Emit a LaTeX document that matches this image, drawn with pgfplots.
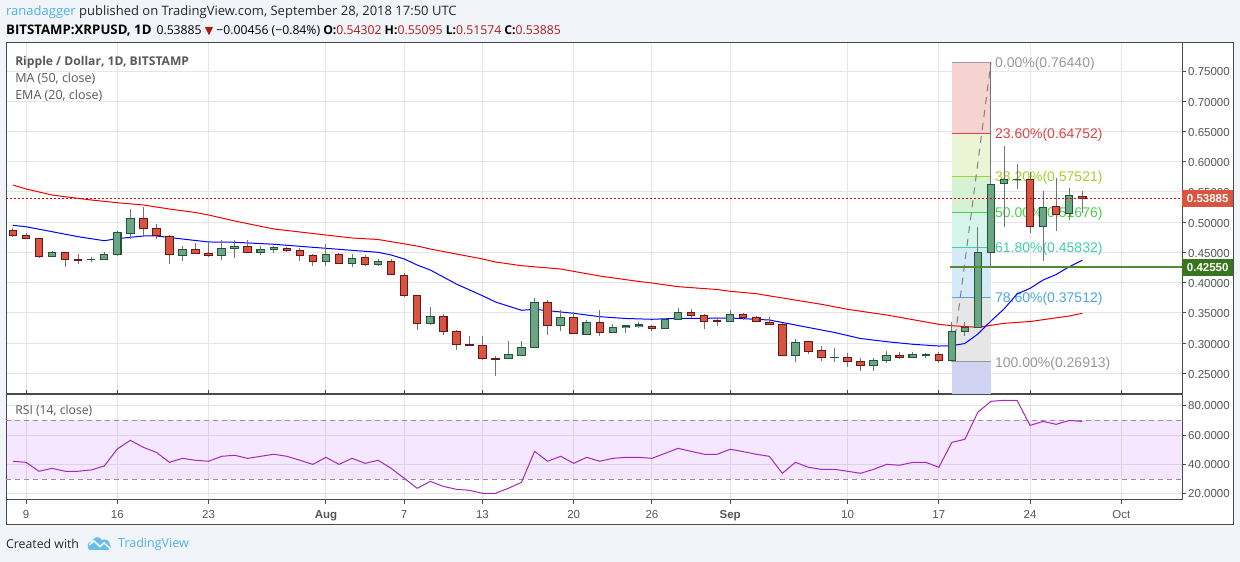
\documentclass[border=0pt]{standalone}
\usepackage{fontspec}
\setmainfont{Liberation Sans}
\newfontfamily\headfont{Open Sans}
\newfontfamily\symfont{DejaVu Sans}
\usepackage{pgfplots}
\usepackage{pgfplotstable}
\pgfplotsset{compat=1.18}

\definecolor{pagebg}{HTML}{F1F4F8}
\definecolor{frame}{HTML}{4A4A4A}
\definecolor{gridc}{HTML}{E6E6E6}
\definecolor{ticktxt}{HTML}{555555}
\definecolor{upfill}{HTML}{6BA583}
\definecolor{upedge}{HTML}{225437}
\definecolor{dnfill}{HTML}{D75442}
\definecolor{dnedge}{HTML}{6B1713}
\definecolor{wickc}{HTML}{737375}
\definecolor{tvblue}{HTML}{4DB3E8}
\definecolor{hdrred}{HTML}{B01818}
\definecolor{rsic}{HTML}{A32AB8}
\definecolor{fibgray}{HTML}{999999}
\definecolor{fibred}{HTML}{DD4444}
\definecolor{fibyel}{HTML}{A0D22E}
\definecolor{fibgrn}{HTML}{4CD04C}
\definecolor{fibtea}{HTML}{40D0A8}
\definecolor{fibblu}{HTML}{4CA8DC}
\definecolor{bandred}{HTML}{F4D3D0}
\definecolor{bandyel}{HTML}{EBF5D5}
\definecolor{bandgrn}{HTML}{D5F2D5}
\definecolor{bandtea}{HTML}{D5F5EB}
\definecolor{bandblu}{HTML}{D5EAF6}
\definecolor{bandgry}{HTML}{E6E6E6}
\definecolor{bandlav}{HTML}{D0D2F2}
\definecolor{lvlgrn}{HTML}{558A35}
\definecolor{boxgrn}{HTML}{38761D}
\definecolor{boxred}{HTML}{D9553F}

% i open high low close, i=0 is 9 Jul
\pgfplotstableread{
i o h l c
2 .4431 .4519 .4431 .4503
5 .4387 .4431 .4343 .4387
6 .4387 .4508 .4387 .4470
7 .4464 .4850 .4448 .4833
8 .4811 .5213 .4718 .5065
12 .4448 .4607 .4365 .4552
15 .4448 .4707 .4376 .4569
16 .4563 .4707 .4409 .4602
18 .4497 .4607 .4459 .4552
19 .4547 .4607 .4497 .4585
23 .4349 .4635 .4277 .4470
25 .4315 .4475 .4255 .4404
27 .4299 .4387 .4282 .4354
31 .3324 .3599 .3307 .3445
37 .2751 .3032 .2751 .2817
38 .2800 .3032 .2784 .2933
39 .2933 .3748 .2933 .3676
41 .3296 .3544 .3208 .3428
43 .3147 .3379 .3147 .3346
45 .3180 .3313 .3180 .3263
46 .3263 .3296 .3175 .3285
47 .3280 .3346 .3247 .3302
49 .3247 .3412 .3247 .3395
50 .3395 .3583 .3379 .3511
54 .3362 .3544 .3362 .3478
59 .2800 .3065 .2696 .3015
62 .2767 .2916 .2685 .2767
65 .2629 .2751 .2547 .2718
66 .2712 .2866 .2679 .2800
68 .2762 .2850 .2762 .2817
69 .2800 .2833 .2762 .2817
71 .2718 .3357 .2718 .3192
72 .3192 .3346 .3126 .3263
73 .3263 .4927 .3263 .4503
74 .4503 .7644 .4255 .5627
75 .5638 .6260 .4927 .5704
76 .5709 .5963 .5550 .5709
78 .4927 .5517 .4365 .5247
80 .5142 .5566 .5037 .5439
}\upT

\pgfplotstableread{
i o h l c
-1 .4866 .4899 .4762 .4778
0 .4784 .4828 .4729 .4729
1 .4734 .4734 .4415 .4431
3 .4503 .4503 .4266 .4382
4 .4387 .4475 .4315 .4376
9 .5065 .5247 .4762 .4894
10 .4899 .4971 .4729 .4784
11 .4767 .4784 .4315 .4470
13 .4552 .4651 .4481 .4481
14 .4486 .4668 .4431 .4448
17 .4602 .4707 .4486 .4503
20 .4569 .4591 .4514 .4530
21 .4536 .4574 .4365 .4448
22 .4453 .4475 .4277 .4349
24 .4470 .4486 .4315 .4321
26 .4420 .4459 .4282 .4299
28 .4354 .4393 .4128 .4139
29 .4123 .4156 .3770 .3787
30 .3792 .3792 .3225 .3324
32 .3445 .3478 .3142 .3197
33 .3197 .3219 .2894 .2982
34 .2982 .3120 .2965 .2965
35 .2966 .3120 .2729 .2751
36 .2751 .2784 .2464 .2734
40 .3676 .3709 .3142 .3296
42 .3428 .3511 .3164 .3164
44 .3346 .3544 .3125 .3180
48 .3280 .3296 .3208 .3247
51 .3511 .3561 .3412 .3462
52 .3462 .3478 .3241 .3362
53 .3368 .3428 .3291 .3357
55 .3478 .3495 .3379 .3428
56 .3428 .3445 .3362 .3362
57 .3346 .3428 .3313 .3313
58 .3313 .3335 .2800 .2800
60 .3032 .3043 .2828 .2866
61 .2883 .2949 .2712 .2767
63 .2767 .2833 .2613 .2696
64 .2701 .2751 .2547 .2629
67 .2800 .2850 .2745 .2762
70 .2817 .2850 .2679 .2712
77 .5704 .5836 .4828 .4927
79 .5258 .5737 .4861 .5131
81 .54302 .55095 .51574 .53885
}\dnT

% wick, then body edge, then body fill. #2 low column, #3 high column
\newcommand{\candles}[5]{
  \addplot[forget plot, draw=none, no markers,
    error bars/.cd, y dir=both, y explicit, error mark=none,
    error bar style={solid, draw=wickc, line width=1pt}]
    table[x=i, y=c, y error plus expr=\thisrow{h}-\thisrow{c},
          y error minus expr=\thisrow{c}-\thisrow{l}] {#1};
  \addplot[forget plot, draw=none, no markers,
    error bars/.cd, y dir=plus, y explicit, error mark=none,
    error bar style={solid, draw=#4, line width=8.5pt}]
    table[x=i, y expr=\thisrow{#2}-0.0009,
          y error plus expr=\thisrow{#3}-\thisrow{#2}+0.0018] {#1};
  \addplot[forget plot, draw=none, no markers,
    error bars/.cd, y dir=plus, y explicit, error mark=none,
    error bar style={solid, draw=#5, line width=6.4pt}]
    table[x=i, y expr=\thisrow{#2}+0.0009,
          y error plus expr={max(\thisrow{#3}-\thisrow{#2}-0.0018,0)}] {#1};
}

\newcommand{\fibband}[3]{
  \addplot[forget plot, draw=none, fill=#3]
    coordinates {(71,#1)(74,#1)(74,#2)(71,#2)} --cycle;
}
\newcommand{\fiblevel}[3]{
  \addplot[forget plot, #2, line width=1pt] coordinates {(71,#1)(74,#1)};
  \node[anchor=west, text=#2, inner sep=0pt, yshift=-1.5pt,
        font=\fontsize{14}{16}\selectfont] at (axis cs:74.3,#1) {#3};
}

\pgfplotsset{
  tvaxis/.style={
    scale only axis, width=1176pt,
    xmin=-1.534, xmax=88.65,
    xtick={0,7,14,23,29,35,42,48,54,63,70,77,84},
    ytick pos=right, yticklabel pos=right,
    tick align=outside, major tick length=4pt,
    axis line style={frame, line width=1pt},
    tick style={frame, line width=1pt},
    grid=major, grid style={gridc, line width=1pt},
    clip mode=individual,
    every tick label/.append style={text=ticktxt,
      font=\fontsize{11.5}{13}\selectfont, inner sep=2pt},
    /pgf/number format/assume math mode=true,
  },
}

\begin{document}
\begin{tikzpicture}[x=1pt,y=1pt]
\fill[pagebg] (0,0) rectangle (1240,562);
\fill[white] (6,37) rectangle (1233,519);
\draw[frame, line width=1pt] (6,37) rectangle (1233,519);

% header
\node[anchor=west, inner sep=0pt, font=\headfont\fontsize{13}{15}\selectfont]
  at (6,549.5) {\textcolor{tvblue}{ranadagger} \textcolor{black!85}{published on TradingView.com, September 28, 2018 17:50 UTC}};
\node[anchor=west, inner sep=0pt, font=\headfont\fontsize{12.2}{15}\selectfont]
  at (6,531.5) {{\fontsize{13.2}{15}\selectfont\textbf{BITSTAMP:XRPUSD, 1D}}\kern5pt 0.53885 {\symfont\fontsize{11}{13}\selectfont\textcolor{hdrred}{▼}} −0.00456 (−0.84\%) \textbf{O:}\textcolor{hdrred}{0.54302} \textbf{H:}\textcolor{hdrred}{0.55095} \textbf{L:}\textcolor{hdrred}{0.51574} \textbf{C:}\textcolor{hdrred}{0.53885}};

% price pane
\begin{axis}[tvaxis, at={(6pt,168pt)}, anchor=south west, height=351pt,
    ymin=0.2161, ymax=0.7963,
    ytick={0.25,0.30,0.35,0.40,0.45,0.50,0.55,0.60,0.65,0.70,0.75},
    xticklabels={}, xtick style={draw=none},
    yticklabel style={yshift=-1pt, /pgf/number format/.cd, fixed, fixed zerofill, precision=5},
]
\fibband{0.7644}{0.64752}{bandred}
\fibband{0.64752}{0.57521}{bandyel}
\fibband{0.57521}{0.51676}{bandgrn}
\fibband{0.51676}{0.45832}{bandtea}
\fibband{0.45832}{0.37512}{bandblu}
\fibband{0.37512}{0.26913}{bandgry}
\fibband{0.26913}{0.2161}{bandlav}

\fiblevel{0.7644}{fibgray}{0.00\%(0.76440)}
\fiblevel{0.64752}{fibred}{23.60\%(0.64752)}
\fiblevel{0.57521}{fibyel}{38.20\%(0.57521)}
\fiblevel{0.51676}{fibgrn}{50.00\%(0.51676)}
\fiblevel{0.45832}{fibtea}{61.80\%(0.45832)}
\fiblevel{0.37512}{fibblu}{78.60\%(0.37512)}
\fiblevel{0.26913}{fibgray}{100.00\%(0.26913)}

\addplot[forget plot, black!50, line width=1pt, dash pattern=on 7pt off 6pt]
  coordinates {(71,0.26913)(74,0.7644)};

% MA 50
\addplot[forget plot, red!95!black, line width=1pt] coordinates {
(-1,.5616)(0,.5550)(2,.5450)(5,.5368)(7,.5323)(9,.5285)(11,.5219)(13,.5161)(14,.5120)
(16,.5021)(19,.4889)(23,.4789)(25,.4740)(27,.4715)(30,.4607)(31,.4558)(35,.4393)(36,.4343)
(38,.4282)(41,.4227)(44,.4111)(47,.4021)(48,.3996)(50,.3935)(53,.3888)(54,.3859)(56,.3819)
(58,.3748)(61,.3644)(63,.3561)(66,.3467)(70,.3313)(71,.3290)(73,.3263)(75,.3329)(77,.3359)
(80,.3450)(81,.3495)};
% EMA 20
\addplot[forget plot, blue, line width=1pt] coordinates {
(-1,.4949)(0,.4926)(2,.4844)(4,.4761)(6,.4695)(7,.4728)(9,.4773)(10,.4773)(12,.4723)(14,.4674)
(16,.4669)(19,.4636)(23,.4569)(27,.4503)(28,.4459)(29,.4393)(30,.4293)(31,.4211)(33,.3979)
(35,.3786)(36,.3682)(38,.3545)(39,.3561)(42,.3495)(44,.3439)(46,.3409)(48,.3396)(50,.3412)
(52,.3412)(54,.3417)(57,.3384)(59,.3302)(61,.3219)(62,.3178)(64,.3078)(66,.3026)(68,.2983)
(70,.2954)(71,.2959)(72,.2996)(73,.3153)(74,.3368)(75,.3566)(76,.3814)(77,.3908)(78,.4045)
(79,.4136)(80,.4265)(81,.4371)};

\candles{\dnT}{c}{o}{dnedge}{dnfill}
\candles{\upT}{o}{c}{upedge}{upfill}

\addplot[forget plot, red!85!black, line width=1pt, dash pattern=on 2pt off 2pt]
  coordinates {(-1.534,0.53885)(88.65,0.53885)};
\addplot[forget plot, lvlgrn, line width=2pt]
  coordinates {(70.85,0.4255)(88.65,0.4255)};

\node[anchor=west, fill=boxred, text=white, minimum width=51pt, minimum height=17pt, inner sep=0pt,
      font=\bfseries\fontsize{11.5}{13}\selectfont] at (axis cs:88.65,0.53885) {0.53885};
\node[anchor=west, fill=boxgrn, text=white, minimum width=51pt, minimum height=17pt, inner sep=0pt,
      font=\bfseries\fontsize{11.5}{13}\selectfont] at (axis cs:88.65,0.4255) {0.42550};

\node[anchor=west, inner sep=0pt, text=black!65, font=\headfont\bfseries\fontsize{12.1}{15}\selectfont]
  at (rel axis cs:0.0077,0.9459) {Ripple / Dollar, 1D, BITSTAMP};
\node[anchor=west, inner sep=0pt, text=black!65, font=\headfont\fontsize{12.5}{15}\selectfont]
  at (rel axis cs:0.0077,0.8974) {MA (50, close)};
\node[anchor=west, inner sep=0pt, text=black!65, font=\headfont\fontsize{12.5}{15}\selectfont]
  at (rel axis cs:0.0077,0.8490) {EMA (20, close)};
\end{axis}

% RSI pane
\begin{axis}[tvaxis, at={(6pt,62pt)}, anchor=south west, height=106pt,
    ymin=15.7, ymax=88,
    ytick={20,40,60,80},
    xticklabels={9,16,23,\textbf{Aug},7,13,20,26,\textbf{Sep},10,17,24,Oct},
    xticklabel style={yshift=-4.5pt},
    yticklabel style={/pgf/number format/.cd, fixed, fixed zerofill, precision=4},
]
\addplot[forget plot, draw=none, fill={rgb,255:red,153;green,21;blue,255}, fill opacity=0.1]
  coordinates {(-1.534,30)(88.65,30)(88.65,70)(-1.534,70)} --cycle;
\addplot[forget plot, black!25!violet!30!gray!70, line width=1pt, dash pattern=on 5pt off 4pt]
  coordinates {(-1.534,70)(88.65,70)};
\addplot[forget plot, black!25!violet!30!gray!70, line width=1pt, dash pattern=on 5pt off 4pt]
  coordinates {(-1.534,30)(88.65,30)};
\addplot[forget plot, rsic, line width=1pt] coordinates {
(-1,42.1)(0,41.4)(1,35.3)(2,37.3)(3,35.3)(4,35.3)(5,36.2)(6,38.9)(7,50.5)(8,56.4)
(9,51.6)(10,48.2)(11,41.4)(12,44.1)(13,42.8)(14,42.1)(15,45.5)(16,46.2)(17,44.1)(18,45.5)
(19,46.9)(20,45.5)(21,42.8)(22,40.0)(23,44.8)(24,40.0)(25,44.1)(26,40.7)(27,42.8)(28,37.3)
(29,30.5)(30,23.7)(31,28.4)(32,25.0)(33,23.0)(34,22.3)(35,20.3)(36,20.3)(37,23.7)(38,27.8)
(39,48.9)(40,42.1)(41,45.5)(42,40.7)(43,44.8)(44,42.1)(45,44.1)(46,44.8)(47,44.8)(48,44.1)
(49,47.5)(50,50.9)(51,48.9)(52,46.9)(53,46.9)(54,50.3)(55,48.7)(56,46.9)(57,45.5)(58,33.9)
(59,41.4)(60,38.0)(61,36.6)(62,36.6)(63,35.3)(64,33.9)(65,36.6)(66,40.0)(67,39.4)(68,41.4)
(69,41.4)(70,38.0)(71,55.0)(72,57.1)(73,75.7)(74,83.0)(75,83.7)(76,83.7)(77,66.6)(78,69.3)
(79,67.3)(80,70.0)(81,69.3)};
\node[anchor=west, inner sep=0pt, text=black!65, font=\headfont\fontsize{12.2}{15}\selectfont]
  at (rel axis cs:0.0077,0.8443) {RSI (14, close)};
\end{axis}

% footer
\node[anchor=west, inner sep=0pt, font=\headfont\fontsize{12.3}{15}\selectfont, text=black!85]
  at (6,18) {Created with};
\fill[tvblue!85!white]
  (88,14) .. controls (87,18) and (89,21) .. (92,20) .. controls (93,25) and (99,27) .. (102,22)
  .. controls (106,24) and (110,21) .. (110,17) .. controls (112,14) and (110,12) .. (108,12)
  -- (92,12) .. controls (90,12) and (88,12) .. (88,14) -- cycle;
\draw[white, line width=1.5pt] (89,17) -- (94,21) -- (100,15.5) -- (104,19) -- (111,13);
\node[anchor=west, inner sep=0pt, font=\headfont\fontsize{12.5}{15}\selectfont, text=tvblue]
  at (118,18) {TradingView};
\end{tikzpicture}
\end{document}
